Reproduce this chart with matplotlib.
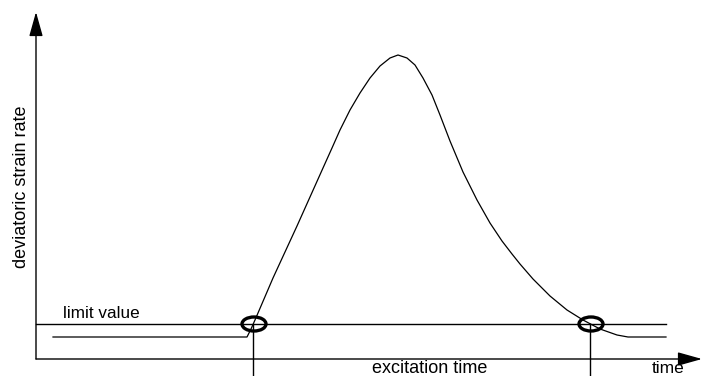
import matplotlib.pyplot as plt
from matplotlib.patches import Ellipse

# schematic drawn in pixel-like units (x right, y down)
# deviatoric strain rate curve
curve_x = [53, 247, 251, 255, 261, 267, 273, 285, 297, 310, 323, 332, 340, 350,
           360, 370, 380, 390, 398, 407, 415, 423, 432, 440, 450, 463, 477, 490,
           502, 512, 520, 533, 550, 567, 583, 600, 617, 628, 666]
curve_y = [337, 337, 329, 320, 306, 292, 278, 252, 226, 197, 168, 148, 130, 110,
           93, 78, 66, 58, 55, 58, 65, 78, 95, 115, 141, 172, 200, 223,
           241, 254, 264, 279, 296, 310, 320, 329, 335, 337, 337]

limit_y = 324
limit_x = [36, 666]
crossing_x = [253, 590]   # where the curve crosses the limit value
axis_origin = (36, 359)
y_axis_top = 12
x_axis_end = 702

plt.rcParams['font.family'] = ['Liberation Sans', 'DejaVu Sans']

fig = plt.figure(figsize=(7.02, 3.76), dpi=100)
ax = fig.add_axes([0, 0, 1, 1])
ax.set_xlim(0, 702)
ax.set_ylim(376, 0)
ax.axis('off')

# axes with arrows
arrow = dict(arrowstyle='-|>,head_length=1.5,head_width=0.42', lw=1, color='black',
             shrinkA=0, shrinkB=0, mutation_scale=10)
ax.annotate('', xy=(axis_origin[0], y_axis_top), xytext=axis_origin, arrowprops=arrow)
ax.annotate('', xy=(x_axis_end, axis_origin[1]), xytext=axis_origin, arrowprops=arrow)

# limit value line and curve
ax.plot(limit_x, [limit_y, limit_y], color='black', lw=1)
ax.plot(curve_x, curve_y, color='black', lw=0.9, solid_joinstyle='round')

# excitation time markers
for cx in crossing_x:
    ax.add_patch(Ellipse((cx + 1, limit_y), 24, 14, fill=False, lw=2.4, ec='black', zorder=5))
    ax.plot([cx, cx], [limit_y, 376], color='black', lw=1)

ax.text(63, 318, 'limit value', fontsize=12.3, ha='left', va='baseline')
ax.text(430, 373, 'excitation time', fontsize=13, ha='center', va='baseline')
ax.text(652, 373, 'time', fontsize=12.5, ha='left', va='baseline')
ax.text(22, 187, 'deviatoric strain rate', fontsize=13, rotation=90,
        ha='center', va='center')

fig.savefig('out.png', dpi=100)
